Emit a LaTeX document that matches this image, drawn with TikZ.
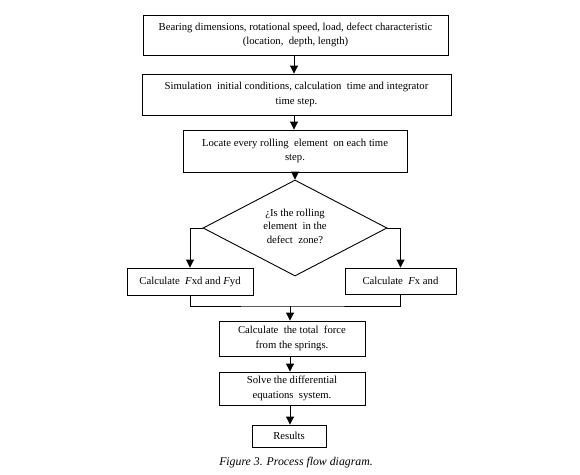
\documentclass[tikz,border=0pt]{standalone}
\usepackage{fontspec}
\setmainfont{Liberation Serif}
\usetikzlibrary{shapes.geometric,arrows.meta}
\begin{document}
\begin{tikzpicture}[x=1pt,y=-1pt,
  box/.style={draw,line width=0.9pt,rectangle,inner sep=0pt,align=center,
    font=\fontsize{10.7}{14.5}\selectfont},
  dia/.style={draw,line width=0.9pt,diamond,inner sep=0pt,align=center},
  conn/.style={line width=0.9pt},
  arr/.style={line width=0.9pt,-{Triangle[length=8pt,width=8pt]}}]
\useasboundingbox (0,0) rectangle (580,474);
\node[box,minimum width=305pt,minimum height=40pt] (b1) at (295.5,35)
  {Bearing dimensions, rotational speed, load, defect characteristic\\(location,\ \ depth, length)};
\node[box,minimum width=309pt,minimum height=41pt] (b2) at (296.5,94.5)
  {Simulation\ \ initial\ conditions, calculation\ \ time and integrator\\time\ step.};
\node[box,minimum width=224pt,minimum height=42pt] (b3) at (295,151)
  {Locate every rolling\ \ element\ \ on each time\\step.};
\node[dia,minimum width=184pt,minimum height=96pt] (d) at (295,228) {};
\node[align=center,font=\fontsize{10.7}{13.5}\selectfont] (dt) at (295,226)
  {¿Is the rolling\\element\ \ in the\\defect\ \ zone?};
\node[box,minimum width=126pt,minimum height=27pt] (l) at (190,281.5)
  {Calculate\ \ \textit{F}xd and \textit{F}yd};
\node[box,minimum width=111pt,minimum height=26pt] (r) at (400.5,281)
  {Calculate\ \ \textit{F}x and};
\node[box,minimum width=146pt,minimum height=35pt] (b4) at (292,338.5)
  {Calculate\ \ the total\ \ force\\from\ the\ springs.};
\node[box,minimum width=146pt,minimum height=33pt] (b5) at (292,388.5)
  {Solve the differential\\equations\ \ system.};
\node[box,minimum width=74pt,minimum height=22pt] (b6) at (289,436)
  {Results};
\node[font=\fontsize{11.8}{13}\selectfont\itshape] (cap) at (296,463)
  {Figure 3. Process flow diagram.};
\coordinate (m) at (290,306);
\draw[arr] (b1.south -| 294,0) -- (b2.north -| 294,0);
\draw[arr] (b2.south -| 294,0) -- (b3.north -| 294,0);
\draw[arr] (b3.south -| d.north) -- (d.north);
\draw[arr] (d.west) -| (l.north);
\draw[arr] (d.east) -| (r.north);
\draw[conn] (l.south) |- (m) -| (r.south);
\draw[arr] (m) -- (m |- b4.north);
\draw[arr] (b4.south -| m) -- (b5.north -| m);
\draw[arr] (b5.south -| m) -- (b6.north -| m);
\end{tikzpicture}
\end{document}
